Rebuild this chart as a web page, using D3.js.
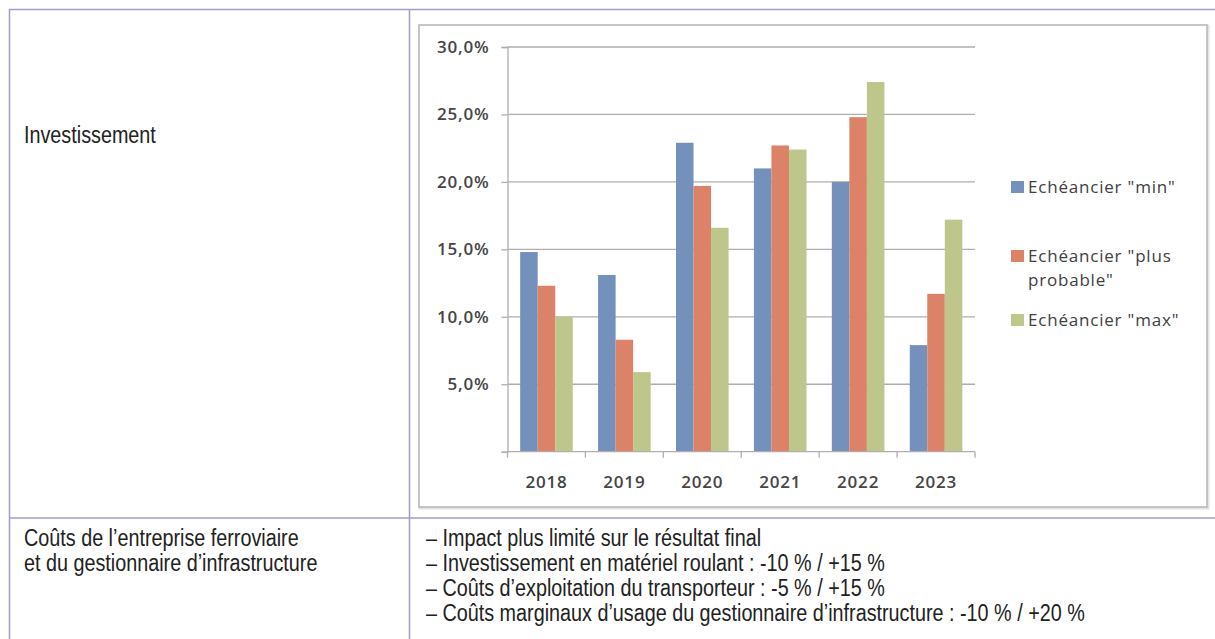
<!DOCTYPE html>
<html><head><meta charset="utf-8">
<script src="https://cdn.jsdelivr.net/npm/d3@7"></script>
<style>body{margin:0;background:#fff}svg{display:block}</style>
</head><body>
<svg id="c" width="1215" height="639"></svg>
<script>
// ---- data ----
const years = ["2018", "2019", "2020", "2021", "2022", "2023"];
const seriesNames = ['Echéancier "min"', 'Echéancier "plus probable"', 'Echéancier "max"'];
const minValues = [14.8, 13.1, 22.9, 21.0, 20.0, 7.9];
const probableValues = [12.3, 8.3, 19.7, 22.7, 24.8, 11.7];
const maxValues = [10.0, 5.9, 16.6, 22.4, 27.4, 17.2];
const yTicks = [0, 5, 10, 15, 20, 25, 30];
const investLabel = "Investissement";
const costLabelLines = ["Coûts de l’entreprise ferroviaire", "et du gestionnaire d’infrastructure"];
const costLines = [
  "– Impact plus limité sur le résultat final",
  "– Investissement en matériel roulant : -10 % / +15 %",
  "– Coûts d’exploitation du transporteur : -5 % / +15 %",
  "– Coûts marginaux d’usage du gestionnaire d’infrastructure : -10 % / +20 %"
];
const seriesValues = [minValues, probableValues, maxValues];
const colors = ["#7491bb", "#dc8269", "#bec68c"];

const svg = d3.select("#c");
const tableFont = "'Liberation Sans',Arial,sans-serif";
const chartFont = "'Open Sans',sans-serif";

// ---- table ----
const lineC = "#a29bcc";
const tl = svg.append("g").attr("stroke", lineC).attr("stroke-width", 1.5);
tl.append("line").attr("x1", 9).attr("x2", 1215).attr("y1", 9.5).attr("y2", 9.5);
tl.append("line").attr("x1", 9).attr("x2", 1215).attr("y1", 518).attr("y2", 518);
tl.append("line").attr("x1", 9.5).attr("x2", 9.5).attr("y1", 9).attr("y2", 639);
tl.append("line").attr("x1", 409.5).attr("x2", 409.5).attr("y1", 9).attr("y2", 639);

function condText(g, x, yy, s) {
  g.append("text").attr("transform", `translate(${x},${yy}) scale(0.86,1)`)
    .attr("font-family", tableFont).attr("font-size", 23).attr("fill", "#222").text(s);
}
const tg = svg.append("g");
condText(tg, 24, 143, investLabel);
costLabelLines.forEach((s, i) => condText(tg, 24, 546 + i * 25, s));
costLines.forEach((s, i) => condText(tg, 426, 546 + i * 25, s));

// ---- chart frame ----
svg.append("rect").attr("x", 420).attr("y", 26).attr("width", 788).attr("height", 482)
  .attr("fill", "none").attr("stroke", "#e4e2e2").attr("stroke-width", 3);
svg.append("rect").attr("x", 419).attr("y", 25).attr("width", 788).attr("height", 482)
  .attr("fill", "#fff").attr("stroke", "#bdb8b8").attr("stroke-width", 1.6);

// ---- scales ----
const x0 = d3.scaleBand().domain(years).range([507.5, 975]).paddingInner(0.325).paddingOuter(0.1625);
const x1 = d3.scaleBand().domain(d3.range(seriesNames.length)).range([0, x0.bandwidth()]);
const y = d3.scaleLinear().domain([0, 30]).range([451.7, 47]);
const fmt = v => d3.format(".1f")(v).replace(".", ",") + "%";
const gridC = "#b3acac";

// gridlines
svg.append("g").selectAll("line").data(yTicks.filter(t => t > 0)).join("line")
  .attr("x1", 507.5).attr("x2", 975).attr("y1", d => y(d)).attr("y2", d => y(d))
  .attr("stroke", gridC).attr("stroke-width", 1.3);

// bars
const groups = svg.append("g").selectAll("g").data(years).join("g")
  .attr("transform", d => `translate(${x0(d)},0)`);
groups.selectAll("rect").data((d, i) => seriesValues.map((s, k) => ({k, v: s[i]}))).join("rect")
  .attr("x", d => x1(d.k)).attr("width", x1.bandwidth())
  .attr("y", d => y(d.v)).attr("height", d => y(0) - y(d.v))
  .attr("fill", d => colors[d.k]);

// y axis
const yAxis = svg.append("g").attr("transform", "translate(507.5,0)")
  .call(d3.axisLeft(y).tickValues(yTicks).tickSize(6).tickPadding(12)
    .tickFormat(d => d === 0 ? "" : fmt(d)));
yAxis.select(".domain").attr("stroke", gridC).attr("stroke-width", 1.3);
yAxis.selectAll(".tick line").attr("stroke", gridC).attr("stroke-width", 1.3);
yAxis.selectAll("text").attr("font-family", chartFont).attr("font-size", 17)
  .attr("letter-spacing", "0.8px").attr("fill", "#454545").attr("font-weight", 600);

// x axis
const xAxis = svg.append("g").attr("transform", `translate(0,${y(0)})`)
  .call(d3.axisBottom(x0).tickSize(0).tickPadding(30));
xAxis.select(".domain").remove();
xAxis.append("line").attr("x1", 507.5).attr("x2", 975).attr("stroke", gridC).attr("stroke-width", 1.3);
xAxis.selectAll(".tick text").attr("font-family", chartFont).attr("font-size", 17)
  .attr("letter-spacing", "0.8px").attr("fill", "#454545").attr("font-weight", 600)
  .attr("dy", 0).attr("y", 36);
const bounds = years.map(d => x0(d) - x0.step() * x0.paddingOuter()).concat([975]);
xAxis.selectAll(".bnd").data(bounds).join("line").attr("class", "bnd")
  .attr("x1", d => d).attr("x2", d => d).attr("y1", 0).attr("y2", 6)
  .attr("stroke", gridC).attr("stroke-width", 1.3);

// legend
const legendY = [193, 262, 326];
const leg = svg.append("g");
seriesNames.forEach((name, i) => {
  leg.append("rect").attr("x", 1011).attr("y", legendY[i] - 12).attr("width", 13).attr("height", 12)
    .attr("fill", colors[i]);
  const t = leg.append("text").attr("x", 1028).attr("y", legendY[i])
    .attr("font-family", chartFont).attr("font-size", 17).attr("letter-spacing", "0.8px")
    .attr("fill", "#404040");
  const words = name.split(" ");
  let line = [];
  let ts = t.append("tspan").attr("x", 1028).attr("dy", 0);
  words.forEach(w => {
    line.push(w);
    ts.text(line.join(" "));
    if (ts.node().getComputedTextLength() > 160 && line.length > 1) {
      line.pop(); ts.text(line.join(" "));
      line = [w];
      ts = t.append("tspan").attr("x", 1028).attr("dy", 24).text(w);
    }
  });
});
</script>
</body></html>
